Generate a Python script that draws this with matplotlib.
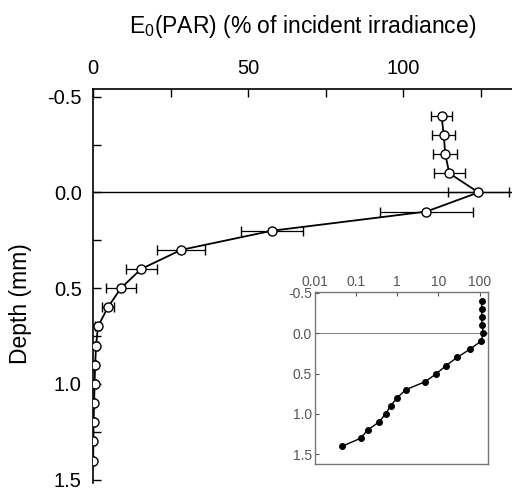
import matplotlib
matplotlib.use("Agg")
import matplotlib.pyplot as plt
from matplotlib.ticker import MultipleLocator, FixedLocator

plt.rcParams['font.family'] = ['Liberation Sans', 'DejaVu Sans']
plt.rcParams['mathtext.fontset'] = 'custom'
plt.rcParams['mathtext.rm'] = 'Liberation Sans'

# depth (mm) and scalar irradiance E0(PAR), % of incident
depth = [-0.4, -0.3, -0.2, -0.1, 0.0, 0.1, 0.2, 0.3, 0.4, 0.5, 0.6, 0.7,
         0.8, 0.9, 1.0, 1.1, 1.2, 1.3, 1.4]
e0 = [112.3, 113.0, 113.5, 114.8, 124.2, 107.4, 57.7, 28.4, 15.5, 9.0, 4.8, 1.6,
      1.0, 0.69, 0.52, 0.36, 0.19, 0.13, 0.046]
e0_err = [3.5, 3.7, 3.8, 5.0, 9.7, 15.0, 10.0, 7.7, 5.0, 4.8, 2.0, 0.8,
          0.5, 0.4, 0.4, 0.4, 0.4, 0.4, 0.4]

x_labels = ["0", "", "50", "", "100", ""]
y_labels = ["-0.5", "0.0", "0.5", "1.0", "1.5"]

fig = plt.figure(figsize=(5.12, 4.9), dpi=100)
ax = fig.add_axes([0.1816, 0.0133, 0.8184, 0.805])

ax.axhline(0, color="black", linewidth=1.0, zorder=1)
ax.errorbar(e0, depth, xerr=e0_err, color="black", linewidth=1.3,
            elinewidth=0.9, capsize=3.5, capthick=0.9,
            marker="o", markersize=6.5, markerfacecolor="white",
            markeredgecolor="black", markeredgewidth=1.0, zorder=3)

ax.set_xlim(0, 135)
ax.set_ylim(1.52, -0.54)
ax.spines["right"].set_visible(False)
ax.spines["bottom"].set_visible(False)
ax.spines["top"].set_linewidth(1.2)
ax.spines["left"].set_linewidth(1.2)

ax.xaxis.tick_top()
ax.xaxis.set_label_position("top")
ax.xaxis.set_major_locator(FixedLocator([0, 25, 50, 75, 100, 125]))
ax.set_xticklabels(x_labels)
ax.yaxis.set_major_locator(FixedLocator([-0.5, 0.0, 0.5, 1.0, 1.5]))
ax.set_yticklabels(y_labels)
ax.yaxis.set_minor_locator(MultipleLocator(0.25))
ax.tick_params(axis="both", which="both", direction="in", labelsize=14.5,
               width=1.0)
ax.tick_params(axis="both", which="major", length=6, pad=8)
ax.tick_params(axis="y", which="minor", length=6)

ax.set_xlabel("E$_0$(PAR) (% of incident irradiance)", fontsize=16.5, labelpad=19)
ax.set_ylabel("Depth (mm)", fontsize=16.5)
ax.yaxis.set_label_coords(-0.146, 0.455)

# inset with log axis
gray = "#555555"
axi = fig.add_axes([0.615, 0.053, 0.338, 0.351])
axi.axhline(0, color="#888888", linewidth=0.8, zorder=1)
axi.plot(e0, depth, color="black", linewidth=1.0, marker="o", markersize=4,
         markerfacecolor="black", markeredgecolor="black", zorder=3)
axi.set_xscale("log")
axi.set_xlim(0.01, 160)
axi.set_ylim(1.62, -0.51)
axi.xaxis.tick_top()
axi.set_xticks([0.01, 0.1, 1, 10, 100])
axi.set_xticklabels(["0.01", "0.1", "1", "10", "100"])
axi.xaxis.set_minor_locator(FixedLocator([]))
axi.set_yticks([-0.5, 0.0, 0.5, 1.0, 1.5])
axi.set_yticklabels(y_labels)
axi.tick_params(axis="both", which="both", direction="in", labelsize=10,
                colors=gray, length=3, pad=2)
for s in axi.spines.values():
    s.set_color("#777777")
    s.set_linewidth(1.0)

plt.savefig("out.png", dpi=100)
